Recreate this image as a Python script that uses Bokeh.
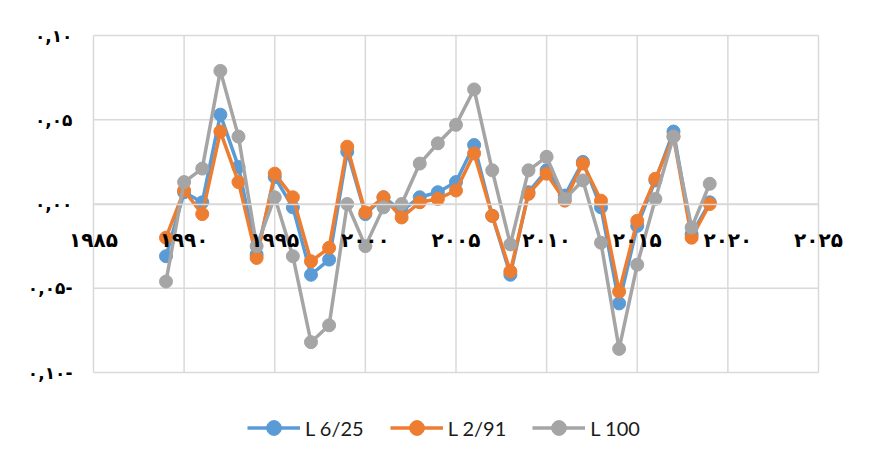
from bokeh.plotting import figure
from bokeh.models import Legend, LegendItem, FixedTicker, Range1d, LinearAxis
from bokeh.embed import file_html
from bokeh.resources import INLINE

years = list(range(1989, 2020))
l_625 = [-0.031, 0.007, 0.001, 0.053, 0.022, -0.030, 0.016, -0.002, -0.042, -0.033,
         0.031, -0.006, 0.004, -0.004, 0.004, 0.007, 0.013, 0.035, -0.007, -0.042,
         0.007, 0.020, 0.005, 0.025, -0.002, -0.059, -0.013, 0.014, 0.043, -0.018, 0.001]
l_291 = [-0.020, 0.008, -0.006, 0.043, 0.013, -0.032, 0.018, 0.004, -0.034, -0.026,
         0.034, -0.005, 0.004, -0.008, 0.001, 0.003, 0.008, 0.030, -0.007, -0.040,
         0.006, 0.018, 0.002, 0.024, 0.002, -0.052, -0.010, 0.015, 0.040, -0.020, 0.000]
l_100 = [-0.046, 0.013, 0.021, 0.079, 0.040, -0.025, 0.004, -0.031, -0.082, -0.072,
         0.000, -0.025, -0.002, 0.000, 0.024, 0.036, 0.047, 0.068, 0.020, -0.024,
         0.020, 0.028, 0.003, 0.014, -0.023, -0.086, -0.036, 0.003, 0.040, -0.014, 0.012]

series_names = ["L 6/25", "L 2/91", "L 100"]
series_colors = ["#5B9BD5", "#ED7D31", "#A5A5A5"]

x_ticks = [1985, 1990, 1995, 2000, 2005, 2010, 2015, 2020, 2025]
x_tick_labels = ["۱۹۸۵", "۱۹۹۰", "۱۹۹۵", "۲۰۰۰", "۲۰۰۵", "۲۰۱۰", "۲۰۱۵", "۲۰۲۰", "۲۰۲۵"]
y_ticks = [-0.10, -0.05, 0.0, 0.05, 0.10]
y_tick_labels = ["۰,۱۰-", "۰,۰۵-", "۰,۰۰", "۰,۰۵", "۰,۱۰"]

grid_color = "#D9D9D9"

# gridded box extent
x_lo, x_hi = 1985, 2025
y_lo, y_hi = -0.10, 0.10

p = figure(width=858, height=449, output_backend="svg", toolbar_location=None,
           x_range=Range1d(1980.697, 2026.766), y_range=Range1d(-0.14451, 0.11187),
           x_axis_location=None, y_axis_location=None,
           min_border_left=15, min_border_right=8, min_border_top=15, min_border_bottom=2)
p.outline_line_color = None
p.background_fill_color = "white"
p.border_fill_color = "white"
p.xgrid.visible = False
p.ygrid.visible = False

# grid lines limited to the plot box
p.segment(x0=x_ticks, y0=[y_lo] * len(x_ticks), x1=x_ticks, y1=[y_hi] * len(x_ticks),
          line_color=grid_color, line_width=1.5)
p.segment(x0=[x_lo] * len(y_ticks), y0=y_ticks, x1=[x_hi] * len(y_ticks), y1=y_ticks,
          line_color=grid_color, line_width=1.5)

xa = LinearAxis(fixed_location=0, bounds=(x_lo, x_hi))
xa.ticker = FixedTicker(ticks=x_ticks)
xa.major_label_overrides = {t: l for t, l in zip(x_ticks, x_tick_labels)}
xa.axis_line_color = grid_color
xa.axis_line_width = 1.5
xa.major_tick_line_color = None
xa.minor_tick_line_color = None
xa.major_label_standoff = 18
xa.major_label_text_font = "DejaVu Sans"
xa.major_label_text_font_style = "bold"
xa.major_label_text_font_size = "20px"
xa.major_label_text_color = "#000000"
p.add_layout(xa, "below")

ya = LinearAxis(fixed_location=x_lo, bounds=(y_lo, y_hi))
ya.ticker = FixedTicker(ticks=y_ticks)
ya.major_label_overrides = {t: l for t, l in zip(y_ticks, y_tick_labels)}
ya.axis_line_color = None
ya.major_tick_line_color = None
ya.minor_tick_line_color = None
ya.major_label_standoff = 15
ya.major_label_text_font = "DejaVu Sans"
ya.major_label_text_font_style = "bold"
ya.major_label_text_font_size = "17px"
ya.major_label_text_color = "#000000"
p.add_layout(ya, "left")

items = []
for name, color, vals in zip(series_names, series_colors, [l_625, l_291, l_100]):
    ln = p.line(years, vals, line_color=color, line_width=3.5)
    sc = p.scatter(years, vals, size=13, fill_color=color, line_color=color)
    items.append(LegendItem(label=name, renderers=[ln, sc]))

legend = Legend(items=items, orientation="horizontal", location=(232, 1),
                glyph_width=53, glyph_height=37, label_standoff=5, spacing=26,
                padding=0, margin=0, border_line_color=None, background_fill_alpha=0,
                label_text_font="Lato", label_text_font_size="20px",
                label_text_color="#1a1a1a")
p.add_layout(legend, "center")

open("out.html", "w").write(file_html(p, INLINE))
